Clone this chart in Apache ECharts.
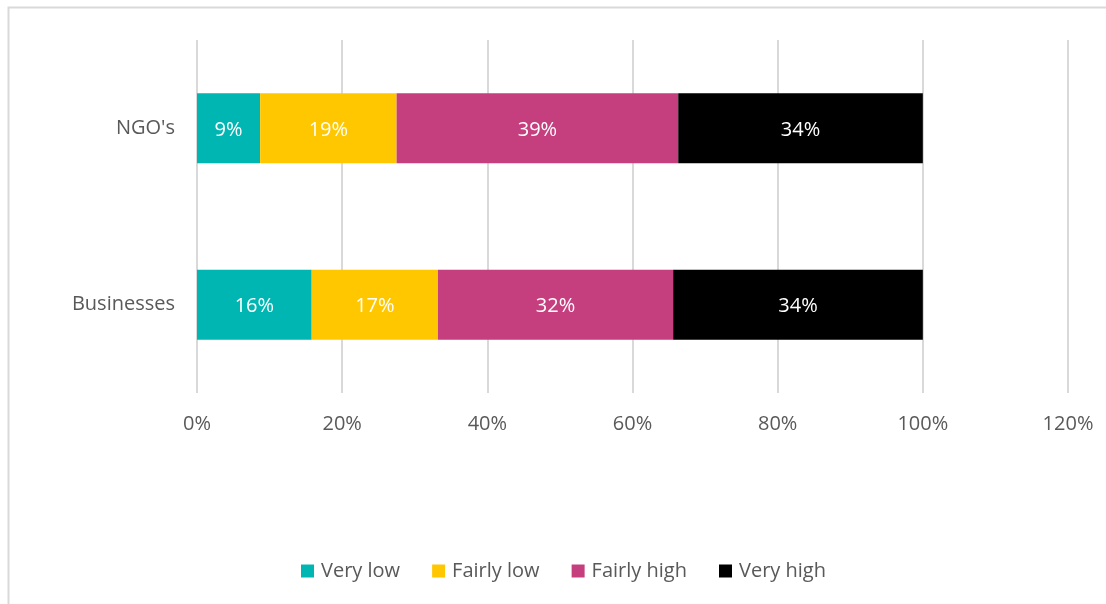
<!DOCTYPE html>
<html>
<head>
<meta charset="utf-8">
<script src="https://cdn.jsdelivr.net/npm/echarts@6/dist/echarts.min.js"></script>
<style>html,body{margin:0;padding:0;background:#fff}#c{width:1106px;height:604px}</style>
</head>
<body>
<div id="c"></div>
<script>
const categories = ["NGO's", "Businesses"];
const seriesNames = ['Very low', 'Fairly low', 'Fairly high', 'Very high'];
const veryLow = [8.7, 15.8];
const fairlyLow = [18.8, 17.4];
const fairlyHigh = [38.8, 32.4];
const veryHigh = [33.7, 34.4];
const colors = ['#00B6B2', '#FFC700', '#C53F7F', '#000000'];
const xTicks = [0, 20, 40, 60, 80, 100, 120];

const font = '"Open Sans", Lato, sans-serif';
const values = [veryLow, fairlyLow, fairlyHigh, veryHigh];
const chart = echarts.init(document.getElementById('c'));
chart.setOption({
  animation: false,
  color: colors,
  textStyle: { fontFamily: font },
  graphic: [{
    type: 'rect', shape: { x: 8.5, y: 7.5, width: 1200, height: 700 },
    style: { fill: 'none', stroke: '#D9D9D9', lineWidth: 2 }, silent: true, z: -1
  }],
  grid: { left: 197, right: 38, top: 40, bottom: 211, containLabel: false },
  legend: {
    bottom: 18, left: 296, itemWidth: 13, itemHeight: 13, itemGap: 32,
    icon: 'rect',
    textStyle: { color: '#595959', fontSize: 20, fontFamily: font, padding: [0, 0, 0, 2] },
    data: seriesNames
  },
  xAxis: {
    type: 'value', min: xTicks[0], max: xTicks[xTicks.length - 1], interval: 20,
    axisLine: { show: false }, axisTick: { show: false },
    axisLabel: { formatter: v => v + '%', color: '#595959', fontSize: 20, margin: 21, fontFamily: font },
    splitLine: { show: true, lineStyle: { color: '#D9D9D9', width: 2 } }
  },
  yAxis: {
    type: 'category', data: categories, inverse: true,
    axisLine: { show: false }, axisTick: { show: false },
    axisLabel: { color: '#595959', fontSize: 20, margin: 22, fontFamily: font }
  },
  series: seriesNames.map((n, i) => ({
    name: n, type: 'bar', stack: 'total', barWidth: 70,
    data: values[i],
    label: {
      show: true, position: 'inside', color: '#fff', fontSize: 20, fontFamily: font,
      offset: [0, 2],
      formatter: p => Math.round(p.value) + '%'
    }
  }))
});
</script>
</body>
</html>
